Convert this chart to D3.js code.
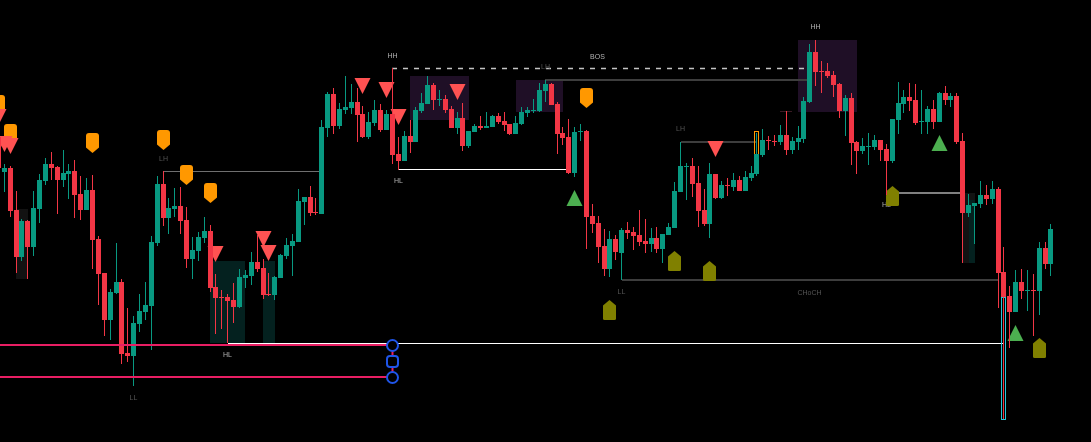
<!DOCTYPE html>
<html>
<head>
<meta charset="utf-8">
<script src="https://cdn.jsdelivr.net/npm/d3@7"></script>
<style>
html, body { margin: 0; padding: 0; background: #000; overflow: hidden; }
svg { display: block; }
</style>
</head>
<body>
<svg id="drawing_region"></svg>
<script>
// candles, first one is bar -1 (cut by the left edge), then ten bars per row
const opens = [363,
    328,332,290,243,279,253,291,319,336,333,
    320,326,329,306,290,310,261,227,180,207,
    218,147,144,176,188,194,257,316,282,291,
    294,280,241,249,262,269,213,203,203,200,
    193,222,224,238,232,206,205,222,244,254,
    258,298,303,288,286,372,406,374,390,392,
    398,386,363,377,390,370,386,346,339,364,
    358,389,396,415,400,401,391,372,382,354,
    368,374,372,373,384,379,376,366,376,387,
    389,389,409,416,396,367,363,327,368,369,
    284,277,254,231,261,247,270,268,265,259,
    256,262,251,265,272,308,333,334,317,290,
    276,326,302,315,313,320,309,322,326,345,
    360,359,358,365,350,358,361,398,448,429,
    429,425,416,389,402,358,349,353,353,360,
    351,339,380,396,403,400,378,378,391,378,
    407,400,404,359,287,294,296,305,301,311,
    228,204,188,218,209,210,209,252,236];
const highs = [363,
    336,334,309,281,280,309,326,342,348,334,
    350,336,340,324,322,325,264,227,211,257,
    221,192,184,206,218,264,324,329,302,312,
    313,293,263,268,283,275,226,210,206,217,
    231,230,248,265,241,227,224,246,262,266,
    311,303,314,302,380,408,412,397,424,416,
    412,394,388,400,396,390,432,363,369,380,
    393,407,424,417,410,405,394,388,397,369,
    376,384,388,385,387,388,376,384,393,393,
    401,417,420,417,398,373,381,373,376,370,
    296,284,271,269,265,272,278,273,290,281,
    272,273,266,277,318,358,337,342,334,311,
    337,326,319,322,327,324,329,334,367,371,
    364,365,375,389,363,374,403,456,460,439,
    437,429,417,405,407,359,362,367,365,360,
    356,381,418,410,417,416,410,394,400,408,
    414,407,407,367,306,297,319,315,319,313,
    253,214,230,231,230,226,258,258,276];
const lows = [332,
    308,283,227,239,221,244,277,315,320,286,
    313,301,282,280,290,231,195,164,160,206,
    136,138,114,168,180,150,254,274,266,283,
    266,232,221,239,257,208,166,171,157,177,
    192,212,215,228,201,204,200,222,241,224,
    258,275,284,285,286,363,366,371,386,386,
    358,362,361,374,368,370,336,330,339,347,
    358,387,396,390,394,387,372,366,349,352,
    368,370,372,373,376,369,365,366,375,383,
    387,388,398,395,346,355,326,323,359,251,
    267,237,224,223,240,220,261,250,254,247,
    248,247,237,265,272,308,300,303,273,274,
    262,301,301,304,309,309,309,319,324,343,
    350,354,355,345,346,350,357,397,414,407,
    422,403,382,364,335,326,346,335,350,339,
    305,337,366,387,389,375,366,366,371,378,
    395,393,356,237,283,256,292,295,296,192,
    81,152,188,201,189,164,185,231,224];
const closes = [332,
    332,289,243,279,253,292,320,336,332,320,
    327,329,305,290,310,260,226,180,208,218,
    146,144,177,189,195,258,316,282,292,294,
    279,241,250,263,269,212,202,202,199,193,
    223,225,238,231,205,205,223,245,255,259,
    299,303,287,287,373,406,374,391,393,398,
    385,363,378,390,370,386,345,339,364,358,
    390,397,415,400,401,390,372,382,354,369,
    374,372,374,384,378,375,366,377,388,390,
    390,410,416,395,366,362,327,368,369,283,
    276,253,231,261,248,270,267,264,258,256,
    262,251,266,273,309,334,334,316,289,276,
    326,302,315,314,320,309,323,327,346,360,
    359,358,365,350,359,362,399,448,428,428,
    424,415,389,402,357,349,354,354,360,350,
    339,381,397,403,399,377,379,391,378,407,
    400,404,358,287,295,297,305,301,311,227,
    203,188,218,209,210,209,252,236,271];

// indicator marks: bar numbers and prices
const orangeBars = [-1,1,15,27,31,35,99];
const orangePrices = [385,356,347,350,315,297,392];
const oliveBars = [103,114,120,151,176];
const olivePrices = [200,249,239,314,162];
const redTriBars = [-1,-1,0,1,36,44,45,61,65,67,77,121];
const redTriPrices = [391,364,364,362,254,269,255,422,418,391,416,359];
const greenTriBars = [97,159,172];
const greenTriPrices = [310,365,175];

// zones: first bar, last bar, top price, bottom price
const purpleZones = [[69,79,424,380],[87,95,420,388],[135,145,460,388]];
const tealZones = [[35,41,239,157],[44,46,239,157],[164,165,300,237]];
const darkZones = [[2,4,291,221],[163,165,307,237]];

// levels: first bar, last bar, price
const greyLevels = [[27,54,328.5]];
const thickGreyLevels = [[151,163,307]];
const dimLevels = [[92,137,420],[115,128,358],[105,169,220]];
const whiteLevels = [[67,96,330.5],[38,170,156.5]];
const darkRedLevels = [[132,134,388.5]];
const bosLevel = [66,137,431.5];
const crimsonLevels = [[-1,66,155],[-1,66,123]];

const brightLabels = [["HH",66,442],["HH",138,471],["HL",67,317],["HL",38,143],["HL",150,293],["BOS",100.8,441]];
const dimLabels = [["LH",27,339],["LL",22,100],["LH",92,431],["LH",115,369],["LL",105,206],["CHoCH",137,205]];

const width = 1091, height = 442;
const svg = d3.select("#drawing_region").attr("width", width).attr("height", height);

const xscale = d3.scaleLinear().domain([0, 178]).range([4.3, 1050.94]);
const yscale = d3.scaleLinear().domain([58, 500]).range([height, 0]);
const col = b => Math.floor(xscale(b));
const edge = b => Math.round(xscale(b));

const green = "#089981", red = "#f23645";

function drawZones(zones, fill) {
    svg.append("g").selectAll("rect").data(zones).join("rect")
        .attr("x", d => edge(d[0]))
        .attr("y", d => yscale(d[2]))
        .attr("width", d => edge(d[1]) - edge(d[0]))
        .attr("height", d => yscale(d[3]) - yscale(d[2]))
        .attr("fill", fill);
}
drawZones(purpleZones, "#1f0f26");
drawZones(darkZones, "#121212");
drawZones(tealZones, "#04211f");

function drawLevels(levels, stroke, w) {
    svg.append("g").selectAll("line").data(levels).join("line")
        .attr("x1", d => edge(d[0]))
        .attr("x2", d => edge(d[1]))
        .attr("y1", d => yscale(d[2]))
        .attr("y2", d => yscale(d[2]))
        .attr("stroke", stroke)
        .attr("stroke-width", w);
}
drawLevels(greyLevels, "#6f6f6f", 1);
drawLevels(thickGreyLevels, "#808080", 2);
drawLevels(dimLevels, "#3d3d3d", 2);
drawLevels(whiteLevels, "#ffffff", 1);
drawLevels(darkRedLevels, "#3a1a24", 1);

svg.append("line")
    .attr("x1", col(bosLevel[0]))
    .attr("x2", col(bosLevel[1]) - 5)
    .attr("y1", yscale(bosLevel[2]))
    .attr("y2", yscale(bosLevel[2]))
    .attr("stroke", "#c4c4c4")
    .attr("stroke-width", 1.4)
    .attr("stroke-dasharray", "5 6");

// the filter keeps the small text in plain grey, without colour fringes
function drawLabels(labels, fill) {
    svg.append("g").style("filter", "grayscale(1)").selectAll("text").data(labels).join("text")
        .attr("x", d => col(d[1]) + 0.5)
        .attr("y", d => yscale(d[2]))
        .attr("text-anchor", "middle")
        .attr("font-family", "'Liberation Sans', sans-serif")
        .attr("font-size", "7px")
        .attr("fill", fill)
        .text(d => d[0]);
}
drawLabels(brightLabels, "#b2b2b2");
drawLabels(dimLabels, "#555555");

// flag shapes, x and y are the tip of the flag
const flagDown = (x, y) => `M${x},${y} L${x-6.5},${y-5.5} L${x-6.5},${y-17} Q${x-6.5},${y-20} ${x-3.5},${y-20} L${x+3.5},${y-20} Q${x+6.5},${y-20} ${x+6.5},${y-17} L${x+6.5},${y-5.5} Z`;
const flagUp = (x, y) => `M${x},${y} L${x+6.5},${y+5.5} L${x+6.5},${y+18.5} Q${x+6.5},${y+20} ${x+5},${y+20} L${x-5},${y+20} Q${x-6.5},${y+20} ${x-6.5},${y+18.5} L${x-6.5},${y+5.5} Z`;

svg.append("g").selectAll("path").data(orangeBars).join("path")
    .attr("d", (b, i) => flagDown(col(b) + 0.5, yscale(orangePrices[i])))
    .attr("fill", "#ff9800");

svg.append("g").selectAll("path").data(oliveBars).join("path")
    .attr("d", (b, i) => flagUp(col(b) + 0.5, yscale(olivePrices[i])))
    .attr("fill", "#808000");

svg.append("g").selectAll("path").data(redTriBars).join("path")
    .attr("d", (b, i) => {
        const x = col(b) + 0.5, y = yscale(redTriPrices[i]);
        return `M${x-8},${y} L${x+8},${y} L${x},${y+16} Z`;
    })
    .attr("fill", "#ff5252");

svg.append("g").selectAll("path").data(greenTriBars).join("path")
    .attr("d", (b, i) => {
        const x = col(b) + 0.5, y = yscale(greenTriPrices[i]);
        return `M${x},${y} L${x+8},${y+16} L${x-8},${y+16} Z`;
    })
    .attr("fill", "#4caf50");

// outlined bars
svg.append("rect")
    .attr("x", col(128) - 1.5).attr("y", yscale(369) + 0.5)
    .attr("width", 4).attr("height", yscale(346) - yscale(369))
    .attr("fill", "none").attr("stroke", "#ff9800");
svg.append("rect")
    .attr("x", col(170) - 1.5).attr("y", yscale(203) + 0.5)
    .attr("width", 4).attr("height", yscale(81) - yscale(203))
    .attr("fill", "none").attr("stroke", "#26c6da");

// candles
const bars = d3.range(-1, 179);
const candles = svg.append("g").attr("shape-rendering", "crispEdges");
const color = (b, i) => closes[i] >= opens[i] ? green : red;

candles.selectAll(".wick").data(bars).join("rect")
    .attr("class", "wick")
    .attr("x", b => col(b))
    .attr("y", (b, i) => yscale(highs[i]))
    .attr("width", 1)
    .attr("height", (b, i) => yscale(lows[i]) - yscale(highs[i]))
    .attr("fill", color);

candles.selectAll(".body").data(bars).join("rect")
    .attr("class", "body")
    .attr("x", b => col(b) - 2)
    .attr("y", (b, i) => yscale(Math.max(opens[i], closes[i])))
    .attr("width", 5)
    .attr("height", (b, i) => Math.abs(yscale(opens[i]) - yscale(closes[i])))
    .attr("fill", color);

// crimson levels and the blue rings go over the candles
drawLevels(crimsonLevels, "#e91e63", 2);

const ringX = col(66) + 0.5;
svg.append("line")
    .attr("x1", ringX).attr("x2", ringX)
    .attr("y1", yscale(155)).attr("y2", yscale(123))
    .attr("stroke", "#e91e63").attr("stroke-width", 2);

const ringPrices = [154.5, 122.5];
svg.append("g").selectAll("circle").data(ringPrices).join("circle")
    .attr("cx", ringX)
    .attr("cy", d => yscale(d))
    .attr("r", 5.5)
    .attr("fill", "#000")
    .attr("stroke", "#1f55e8")
    .attr("stroke-width", 2);

svg.append("rect")
    .attr("x", ringX - 5.5).attr("y", yscale(138.5) - 5.5)
    .attr("width", 11).attr("height", 11).attr("rx", 3)
    .attr("fill", "#000")
    .attr("stroke", "#1f55e8")
    .attr("stroke-width", 2);
</script>
</body>
</html>
